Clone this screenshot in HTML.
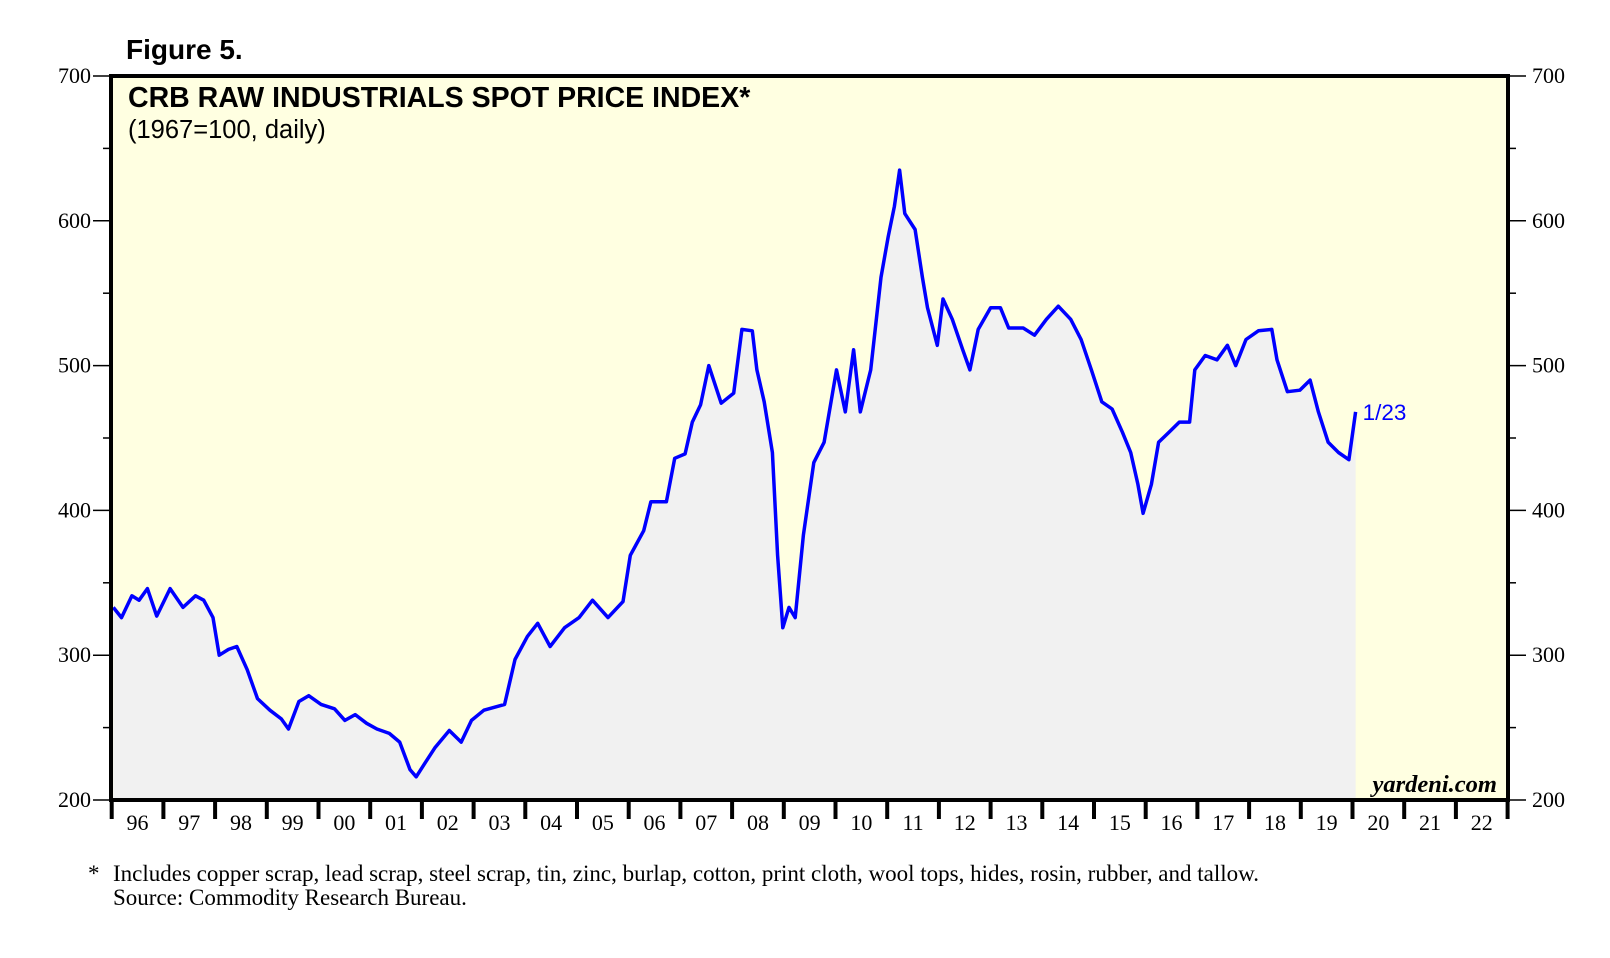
<!DOCTYPE html>
<html><head><meta charset="utf-8"><style>
html,body{margin:0;padding:0;background:#fff;}
body{width:1610px;height:953px;overflow:hidden;position:relative;font-family:"Liberation Serif",serif;}
</style></head><body>
<svg id="chart" width="1610" height="953" xmlns="http://www.w3.org/2000/svg">
<text x="126" y="59" font-family="Liberation Sans, sans-serif" font-weight="bold" font-size="28">Figure 5.</text>
<rect x="111" y="76" width="1397" height="724" fill="#FFFFE1"/>
<g id="marks"></g>
<rect x="111" y="76" width="1397" height="724" fill="none" stroke="#000" stroke-width="4"/>
<text x="128" y="107" font-family="Liberation Sans, sans-serif" font-weight="bold" font-size="28.5">CRB RAW INDUSTRIALS SPOT PRICE INDEX*</text>
<text x="128" y="138" font-family="Liberation Sans, sans-serif" font-size="25.5">(1967=100, daily)</text>
<text x="1497" y="792" text-anchor="end" font-family="Liberation Serif, serif" font-weight="bold" font-style="italic" font-size="24.5">yardeni.com</text>
<g id="axes"></g>
<text x="88" y="881" font-size="23">*</text>
<text x="113" y="881" font-size="23">Includes copper scrap, lead scrap, steel scrap, tin, zinc, burlap, cotton, print cloth, wool tops, hides, rosin, rubber, and tallow.</text>
<text x="113" y="905" font-size="23">Source: Commodity Research Bureau.</text>
</svg>
<script>
const dates=[1996.03,1996.19,1996.39,1996.53,1996.69,1996.87,1997.13,1997.38,1997.62,1997.78,1997.96,1998.08,1998.26,1998.42,1998.62,1998.82,1999.06,1999.28,1999.42,1999.62,1999.81,2000.05,2000.31,2000.51,2000.71,2000.93,2001.13,2001.37,2001.57,2001.77,2001.89,2002.05,2002.25,2002.53,2002.76,2002.96,2003.20,2003.60,2003.80,2004.04,2004.24,2004.48,2004.76,2005.04,2005.30,2005.60,2005.89,2006.03,2006.29,2006.43,2006.73,2006.89,2007.09,2007.23,2007.39,2007.55,2007.79,2008.03,2008.19,2008.39,2008.48,2008.62,2008.78,2008.88,2008.98,2009.10,2009.22,2009.38,2009.58,2009.78,2010.02,2010.19,2010.35,2010.48,2010.68,2010.88,2011.02,2011.14,2011.24,2011.34,2011.54,2011.68,2011.78,2011.97,2012.08,2012.26,2012.46,2012.60,2012.76,2013.00,2013.19,2013.35,2013.63,2013.85,2014.08,2014.31,2014.55,2014.75,2014.95,2015.15,2015.35,2015.55,2015.71,2015.85,2015.95,2016.11,2016.25,2016.45,2016.65,2016.85,2016.95,2017.15,2017.38,2017.58,2017.74,2017.94,2018.18,2018.44,2018.54,2018.74,2018.98,2019.18,2019.34,2019.53,2019.73,2019.93,2020.06];
const values=[333,326,341,338,346,327,346,333,341,338,326,300,304,306,290,270,262,256,249,268,272,266,263,255,259,253,249,246,240,221,216,225,236,248,240,255,262,266,297,313,322,306,319,326,338,326,337,369,386,406,406,436,439,461,473,500,474,481,525,524,497,475,440,369,319,333,326,383,433,447,497,468,511,468,497,561,589,610,635,605,594,561,540,514,546,532,511,497,525,540,540,526,526,521,532,541,532,518,497,475,470,454,440,418,398,418,447,454,461,461,497,507,504,514,500,518,524,525,504,482,483,490,468,447,440,435,468];
const yTicks=[200,300,400,500,600,700];
const yearLabels=["96","97","98","99","00","01","02","03","04","05","06","07","08","09","10","11","12","13","14","15","16","17","18","19","20","21","22"];
const lastLabel="1/23";
const X0=111.7,YW=51.7,Y0=800,YS=1.448;
function xs(d){return X0+(d-1996)*YW;}
function ys(v){return Y0-(v-200)*YS;}
const NS="http://www.w3.org/2000/svg";
function mk(tag,attrs,parent){const e=document.createElementNS(NS,tag);for(const k in attrs)e.setAttribute(k,attrs[k]);parent.appendChild(e);return e;}
const marks=document.getElementById('marks');
let pts=dates.map((d,i)=>xs(d).toFixed(1)+","+ys(values[i]).toFixed(1));
const area=mk('polygon',{points:xs(dates[0])+","+Y0+" "+pts.join(" ")+" "+xs(dates[dates.length-1])+","+Y0,fill:"#F1F1F1"},marks);


const line=mk('polyline',{points:pts.join(" "),fill:"none",stroke:"#0000FF","stroke-width":3.5,"stroke-linejoin":"round"},marks);


const ll=mk('text',{x:xs(dates[dates.length-1])+7,y:ys(values[values.length-1])+8,fill:"#0000FF","font-family":"Liberation Sans, sans-serif","font-size":22.5},marks);
ll.textContent=lastLabel;


const axes=document.getElementById('axes');
for(let v=200;v<=700;v+=50){
 const y=ys(v),major=v%100===0,len=major?18:8;
 const t1=mk('line',{x1:111-len,x2:111,y1:y,y2:y,stroke:"#000","stroke-width":1.5},axes);
 
 
 const t2=mk('line',{x1:1508,x2:1508+len,y1:y,y2:y,stroke:"#000","stroke-width":1.5},axes);
 
 
}
yTicks.forEach(v=>{
 const a=mk('text',{x:91,y:ys(v)+7,"text-anchor":"end","font-size":22},axes);a.textContent=v;
 
 
 const b=mk('text',{x:1532,y:ys(v)+7,"font-size":22},axes);b.textContent=v;
 
 
});
yearLabels.forEach((l,i)=>{
 const x=X0+i*YW;
 const t=mk('line',{x1:x,x2:x,y1:800,y2:819,stroke:"#000","stroke-width":4},axes);
 
 
 const tx=mk('text',{x:x+YW/2,y:830,"text-anchor":"middle","font-size":22},axes);tx.textContent=l;
 
 
});
const te=mk('line',{x1:X0+27*YW,x2:X0+27*YW,y1:800,y2:819,stroke:"#000","stroke-width":4},axes);


</script>
</body></html>
